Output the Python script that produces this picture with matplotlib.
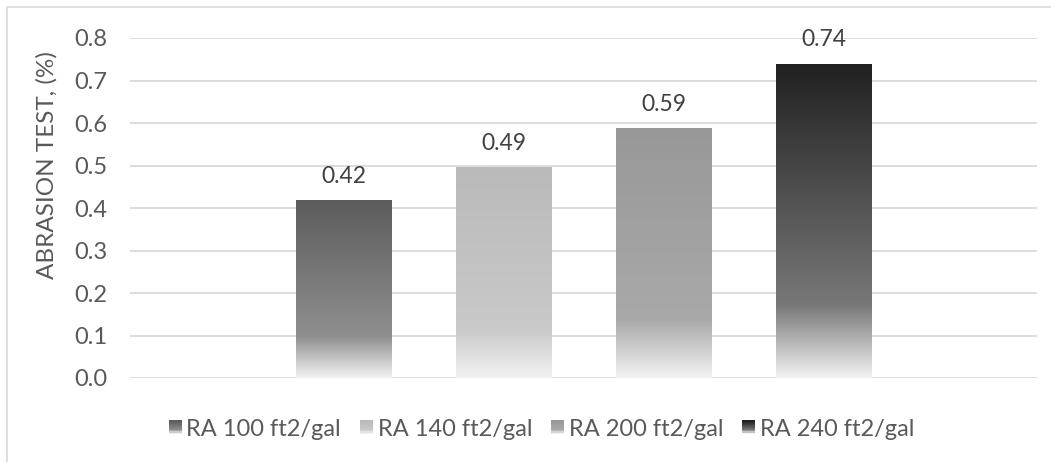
import matplotlib
matplotlib.use("Agg")
import matplotlib.pyplot as plt
import numpy as np
from matplotlib.colors import to_rgb
from matplotlib.patches import Rectangle
from matplotlib.legend_handler import HandlerBase

plt.rcParams['font.family'] = ['Lato', 'DejaVu Sans']

series = ['RA 100 ft2/gal', 'RA 140 ft2/gal', 'RA 200 ft2/gal', 'RA 240 ft2/gal']
values = [0.418, 0.495, 0.587, 0.738]
top_colors = ['#5c5c5c', '#bababa', '#989898', '#212121']
mid_colors = ['#8f8f8f', '#c9c9c9', '#a9a9a9', '#787878']
yticks = [0.0, 0.1, 0.2, 0.3, 0.4, 0.5, 0.6, 0.7, 0.8]

TXT = '#595959'
GRID = '#d9d9d9'
FS = 17
FADE = 0.23  # part of the bar height that fades to white


def grad_colors(top, mid, n=200):
    # colours from bottom to top
    t = np.linspace(0, 1, n)
    bottom = np.array([0.95, 0.95, 0.95])
    mid = np.array(to_rgb(mid))
    top = np.array(to_rgb(top))
    out = np.zeros((n, 3))
    for i, f in enumerate(t):
        if f < FADE:
            a = f / FADE
            out[i] = bottom + (mid - bottom) * a
        else:
            a = (f - FADE) / (1 - FADE)
            out[i] = mid + (top - mid) * a
    return out


class GradHandler(HandlerBase):
    def __init__(self, top, mid):
        super().__init__()
        self.top, self.mid = top, mid

    def create_artists(self, legend, orig_handle, xdescent, ydescent, width,
                       height, fontsize, trans):
        n = 12
        cols = grad_colors(self.top, self.mid, n)
        side = width
        x0 = -xdescent
        y0 = -ydescent + (height - side) / 2
        arts = []
        for i in range(n):
            r = Rectangle((x0, y0 + side * i / n), side, side / n + 0.3,
                          facecolor=cols[i], edgecolor='none', transform=trans)
            arts.append(r)
        return arts


fig = plt.figure(figsize=(10.51, 4.62), dpi=100)
ax = fig.add_axes([130 / 1051, 1 - 378 / 462, 907 / 1051, 340 / 462])

x = np.arange(len(series))
w = 0.594
bars = ax.bar(x, values, width=w, color='none', edgecolor='none', zorder=3)
for i, b in enumerate(bars):
    cols = grad_colors(top_colors[i], mid_colors[i])
    img = cols[::-1][:, None, :]
    ax.imshow(img, extent=[b.get_x(), b.get_x() + w, 0, values[i]],
              aspect='auto', zorder=3, interpolation='bilinear')
    ax.text(x[i], values[i] + 0.042, f'{values[i]:.2f}', ha='center',
            va='baseline', fontsize=FS - 0.5, color='#404040')

ax.set_xlim(-1.334, 4.334)
ax.set_ylim(0, 0.8)
ax.set_yticks(yticks)
ax.set_yticklabels([f'{v:.1f}' for v in yticks])
ax.yaxis.grid(True, color=GRID, linewidth=1.3, zorder=0)
ax.set_axisbelow(True)
ax.tick_params(axis='y', length=0, pad=16.5, labelsize=FS, labelcolor=TXT)
ax.tick_params(axis='x', length=0, labelbottom=False)
for s in ax.spines.values():
    s.set_visible(False)

fig.text(47 / 1051, 1 - 165 / 462, 'ABRASION TEST, (%)', rotation=90,
         ha='center', va='center', fontsize=FS + 0.5, color=TXT)

handles = [Rectangle((0, 0), 1, 1) for _ in series]
hmap = {h: GradHandler(top_colors[i], mid_colors[i]) for i, h in enumerate(handles)}
fig.legend(handles, series, handler_map=hmap, loc='center',
           bbox_to_anchor=(541.5 / 1051, 1 - 429 / 462), ncol=4, frameon=False,
           fontsize=FS, labelcolor=TXT, handlelength=0.55, handleheight=0.55,
           handletextpad=0.2, columnspacing=0.8, borderpad=0)

# chart border, only top and left edges are inside the picture
fig.patches.append(Rectangle((7 / 1051, -0.1), 1.2, 1 - 7 / 462 + 0.1,
                             transform=fig.transFigure, fill=False,
                             edgecolor=GRID, linewidth=1.2))

fig.savefig('out.png', dpi=100)
